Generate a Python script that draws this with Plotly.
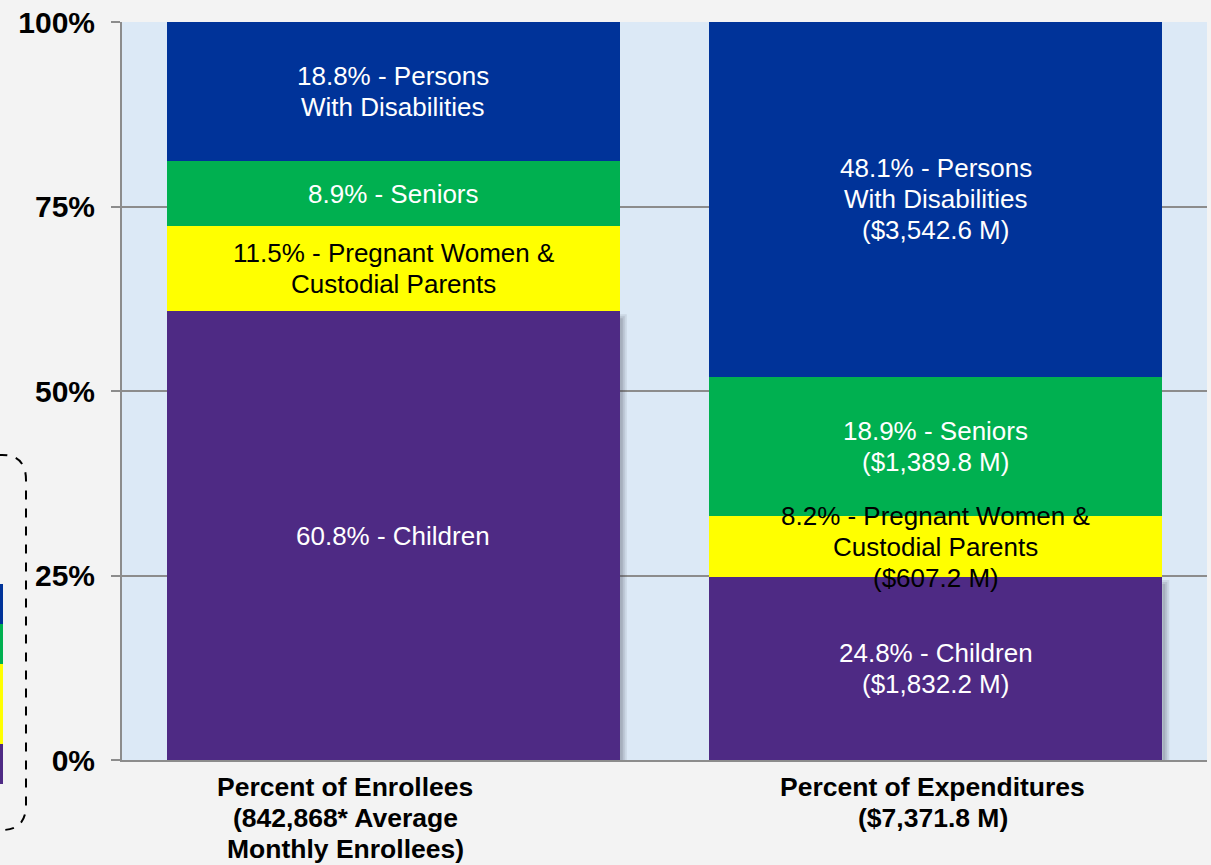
import plotly.graph_objects as go

categories = [["Percent of Enrollees", "(842,868* Average", "Monthly Enrollees)"],
              ["Percent of Expenditures", "($7,371.8 M)"]]
groups = ["Children", "Pregnant Women & Custodial Parents", "Seniors", "Persons With Disabilities"]
colors = ["#4E2A84", "#FFFF00", "#00B050", "#003399"]
text_colors = ["white", "black", "white", "white"]

enrollee_pct = [60.8, 11.5, 8.9, 18.8]
expend_pct = [24.8, 8.2, 18.9, 48.1]
expend_amt = ["$1,832.2 M", "$607.2 M", "$1,389.8 M", "$3,542.6 M"]

enrollee_labels = [["60.8% - Children"],
                   ["11.5% - Pregnant Women &", "Custodial Parents"],
                   ["8.9% - Seniors"],
                   ["18.8% - Persons", "With Disabilities"]]
expend_labels = [["24.8% - Children", "($1,832.2 M)"],
                 ["8.2% - Pregnant Women &", "Custodial Parents", "($607.2 M)"],
                 ["18.9% - Seniors", "($1,389.8 M)"],
                 ["48.1% - Persons", "With Disabilities", "($3,542.6 M)"]]
y_ticks = [0, 25, 50, 75, 100]
y_tick_text = ["0%", "25%", "50%", "75%", "100%"]

W, H = 1211, 865
ml, mr, mt, mb = 122, 4, 22, 105
BAR_W = 0.835
FONT = "Liberation Sans, Arial, sans-serif"
LINE_H = 31
CAT_XSHIFT = [-48, -3]

fig = go.Figure()
for i, g in enumerate(groups):
    fig.add_trace(go.Bar(
        x=[0, 1], y=[enrollee_pct[i], expend_pct[i]], name=g,
        marker=dict(color=colors[i], line=dict(width=0)),
        width=BAR_W, showlegend=False, hoverinfo="skip"))

anns = []
# labels at segment centers, one annotation per line for tight spacing
for col, (vals, labs) in enumerate([(enrollee_pct, enrollee_labels), (expend_pct, expend_labels)]):
    base = 0
    for i, v in enumerate(vals):
        n = len(labs[i])
        for k, line in enumerate(labs[i]):
            anns.append(dict(x=col, y=base + v / 2, text=line, showarrow=False,
                             xref="x", yref="y", yshift=((n - 1) / 2 - k) * LINE_H,
                             font=dict(family=FONT, size=26, color=text_colors[i])))
        base += v

# category labels under the axis
for col, lines in enumerate(categories):
    for k, line in enumerate(lines):
        anns.append(dict(x=col, y=0, text=f"<b>{line}</b>", showarrow=False,
                         xref="x", yref="paper", yanchor="middle",
                         xshift=CAT_XSHIFT[col], yshift=-27 - k * LINE_H,
                         font=dict(family=FONT, size=26.5, color="black")))

plot_w = W - ml - mr
plot_h = H - mt - mb
ppx = (plot_w / 2)  # px per category unit
ppy = plot_h / 100  # px per percent
shapes = []
# soft shadow to the right of the bottom (Children) segment
for col, vals in enumerate([enrollee_pct, expend_pct]):
    right = col + BAR_W / 2
    top = vals[0]
    for w, a in [(7, 0.10), (5, 0.12), (3, 0.14)]:
        shapes.append(dict(type="rect", xref="x", yref="y",
                           x0=right, x1=right + w / ppx,
                           y0=0, y1=top - (10 - w) / ppy,
                           fillcolor=f"rgba(60,60,70,{a})", line=dict(width=0), layer="between"))

# partial legend box at left edge (paper coords from pixels)
def px(xp):
    return (xp - ml) / plot_w
def py(yp):
    return (H - mb - yp) / plot_h

shapes.append(dict(type="path", xref="paper", yref="paper",
                   path=(f"M {px(-20)},{py(455)} L {px(2)},{py(455)} "
                         f"Q {px(26)},{py(455)} {px(26)},{py(480)} "
                         f"L {px(26)},{py(805)} Q {px(26)},{py(830)} {px(2)},{py(830)} "
                         f"L {px(-20)},{py(830)}"),
                   line=dict(color="black", width=2, dash="dash"), layer="above"))
legend_spans = [(744, 784), (664, 744), (624, 664), (584, 624)]
for i, (a, b) in enumerate(legend_spans):
    shapes.append(dict(type="rect", xref="paper", yref="paper",
                       x0=px(0), x1=px(3), y0=py(b), y1=py(a),
                       fillcolor=colors[i], line=dict(width=0), layer="above"))

fig.update_layout(
    width=W, height=H, barmode="stack", bargap=1 - BAR_W,
    margin=dict(l=ml, r=mr, t=mt, b=mb, autoexpand=False),
    paper_bgcolor="#F3F3F3", plot_bgcolor="#DCE9F6",
    font=dict(family=FONT, color="black"),
    annotations=anns, shapes=shapes,
    xaxis=dict(tickvals=[0, 1], ticktext=["", ""], range=[-0.5, 1.5],
               showgrid=False, showline=True, linecolor="#8C8C8C", linewidth=2,
               ticks="", fixedrange=True),
    yaxis=dict(range=[0, 100], tickvals=y_ticks,
               ticktext=[f"<b>{t}</b>" for t in y_tick_text],
               showgrid=True, gridcolor="#8C8C8C", gridwidth=2,
               showline=True, linecolor="#8C8C8C", linewidth=2,
               ticks="outside", ticklen=9, tickcolor="#8C8C8C", tickwidth=2,
               ticklabelstandoff=10,
               tickfont=dict(size=30, family=FONT, color="black"),
               zeroline=False, fixedrange=True),
)

fig.write_html("out.html", config={"displayModeBar": False},
               post_script="document.body.style.margin='0';document.body.style.background='#F3F3F3';")
